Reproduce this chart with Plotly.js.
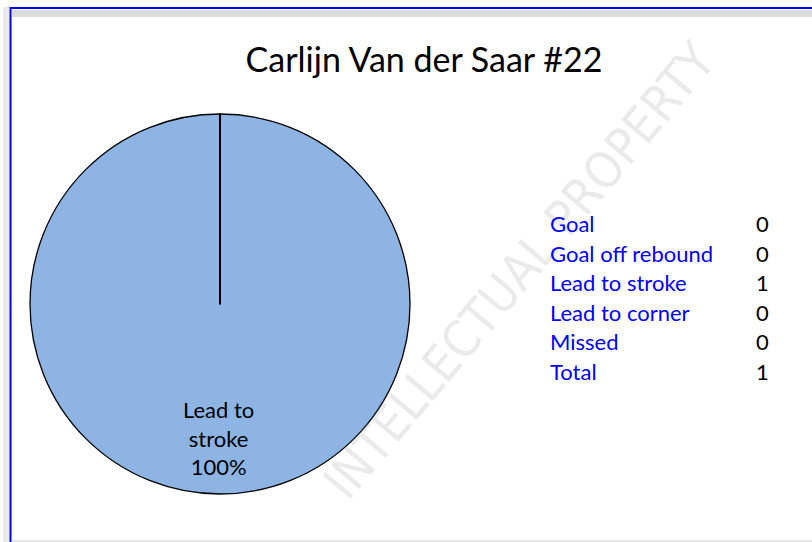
<!DOCTYPE html>
<html>
<head>
<meta charset="utf-8">
<script src="https://cdn.plot.ly/plotly-3.0.1.min.js"></script>
<style>
  body { margin: 0; padding: 0; background: #ffffff; }
  #plot { width: 812px; height: 542px; }
</style>
</head>
<body>
<div id="plot"></div>
<script>
// shot outcomes for the player
var categories = ['Goal', 'Goal off rebound', 'Lead to stroke', 'Lead to corner', 'Missed'];
var counts = [0, 0, 1, 0, 0];
var totalLabel = 'Total';
var chartTitle = 'Carlijn Van der Saar #22';

var total = counts.reduce(function (a, b) { return a + b; }, 0);

// pie placement (paper fraction)
var domX = [30 / 812, 410 / 812];
var domY = [48 / 542, 428 / 542];
var cx = (domX[0] + domX[1]) / 2;
var cy = (domY[0] + domY[1]) / 2;

var trace1 = {
  type: 'pie',
  labels: categories,
  values: counts,
  sort: false,
  direction: 'clockwise',
  rotation: 0,
  textinfo: 'none',
  hoverinfo: 'label+percent',
  showlegend: false,
  marker: {
    colors: ['#4F81BD', '#C0504D', '#8EB4E3', '#9BBB59', '#8064A2'],
    line: { color: '#000000', width: 1.3 }
  },
  domain: { x: domX, y: domY }
};

var font = 'Lato, "Open Sans", sans-serif';
var annotations = [];

// watermark (drawn first so it sits under the table text)
annotations.push({
  x: 0.64, y: 0.5, xref: 'paper', yref: 'paper', xanchor: 'center', yanchor: 'middle',
  showarrow: false,
  text: 'INTELLECTUAL PROPERTY', textangle: -50,
  font: { family: '"Liberation Sans Narrow", "DejaVu Sans Condensed", sans-serif', size: 50,
    color: 'rgba(130,130,130,0.17)' }
});

// slice label (the only non-zero slice), placed low in the pie like the original
counts.forEach(function (v, i) {
  if (v > 0) {
    var words = categories[i].split(' ');
    var txt = words.slice(0, words.length - 1).join(' ') + '<br>' + words[words.length - 1] +
      '<br>' + Math.round(v / total * 100) + '%';
    annotations.push({
      x: cx - 0.002, y: 1 - 438 / 542, xref: 'paper', yref: 'paper',
      xanchor: 'center', yanchor: 'middle',
      text: txt, showarrow: false, align: 'center',
      font: { family: font, size: 22, color: '#000000' }
    });
  }
});

// side table
var rows = categories.concat([totalLabel]);
var rowVals = counts.concat([total]);
rows.forEach(function (r, i) {
  var yy = 1 - (224 + i * 29.4) / 542;
  annotations.push({
    x: 548 / 812, y: yy, xref: 'paper', yref: 'paper', xanchor: 'left', yanchor: 'middle',
    text: r, showarrow: false, font: { family: font, size: 22, color: '#0000FF' }
  });
  annotations.push({
    x: 771 / 812, y: yy, xref: 'paper', yref: 'paper', xanchor: 'right', yanchor: 'middle',
    text: String(rowVals[i]), showarrow: false, font: { family: font, size: 22, color: '#000000' }
  });
});

var shapes = [
  // line from pie centre to the top
  { type: 'line', xref: 'paper', yref: 'paper', x0: cx, x1: cx, y0: cy, y1: domY[1],
    line: { color: '#000000', width: 2 } },
  // frame: grey shadow strips and blue border
  { type: 'rect', xref: 'paper', yref: 'paper', x0: 3 / 812, x1: 9 / 812, y0: 0, y1: 1 - 7 / 542,
    line: { width: 0 }, fillcolor: '#ebebeb' },
  { type: 'rect', xref: 'paper', yref: 'paper', x0: 12 / 812, x1: 1, y0: 1 - 17 / 542, y1: 1 - 10 / 542,
    line: { width: 0 }, fillcolor: '#dcdcdc' },
  { type: 'rect', xref: 'paper', yref: 'paper', x0: 12 / 812, x1: 1, y0: 0, y1: 2 / 542,
    line: { width: 0 }, fillcolor: '#e6e6e6' },
  { type: 'line', xref: 'paper', yref: 'paper', x0: 10.5 / 812, x1: 1, y0: 1 - 8 / 542, y1: 1 - 8 / 542,
    line: { color: '#0000FF', width: 2 } },
  { type: 'line', xref: 'paper', yref: 'paper', x0: 10.5 / 812, x1: 10.5 / 812, y0: 0, y1: 1 - 7 / 542,
    line: { color: '#0000FF', width: 2 } }
];

var layout = {
  width: 812,
  height: 542,
  margin: { l: 0, r: 0, t: 0, b: 0 },
  paper_bgcolor: '#ffffff',
  title: {
    text: chartTitle,
    x: 424 / 812, xanchor: 'center',
    y: 1 - 60 / 542, yanchor: 'middle',
    font: { family: font, size: 34, color: '#000000' }
  },
  annotations: annotations,
  shapes: shapes
};

Plotly.newPlot('plot', [trace1], layout, { displayModeBar: false, staticPlot: true });
</script>
</body>
</html>
